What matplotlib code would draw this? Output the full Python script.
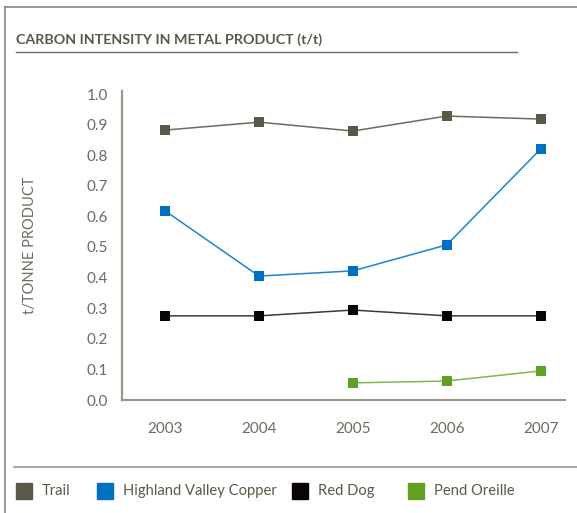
import numpy as np
import matplotlib.pyplot as plt
from matplotlib.lines import Line2D
from matplotlib.patches import Rectangle

years = [2003, 2004, 2005, 2006, 2007]
trail = [0.882, 0.908, 0.879, 0.928, 0.918]
highland = [0.618, 0.405, 0.422, 0.507, 0.820]
red_dog = [0.275, 0.275, 0.294, 0.275, 0.275]
pend_years = [2005, 2006, 2007]
pend_oreille = [0.056, 0.062, 0.095]

names = ["Trail", "Highland Valley Copper", "Red Dog", "Pend Oreille"]
colors = ["#5b5848", "#0070c0", "#0a0406", "#62a025"]
line_colors = ["#6e6b5e", "#1f84d0", "#3a3a3a", "#7fb84a"]

plt.rcParams["font.family"] = ["Lato", "DejaVu Sans"]
grey = "#6b6b5e"

W, H = 577, 513
fig = plt.figure(figsize=(W / 100, H / 100), dpi=100)

ax = fig.add_axes([122 / W, 1 - 400 / H, (565 - 122) / W, (400 - 94) / H])

series = [(years, trail), (years, highland), (years, red_dog), (pend_years, pend_oreille)]
for (xs, ys), c, lc in zip(series, colors, line_colors):
    ax.plot(xs, ys, "-", color=lc, linewidth=1.1, zorder=2)
    ax.plot(xs, ys, "s", color=c, markersize=7.5, zorder=3, markeredgewidth=0)

ax.set_xlim(2002.54, 2007.26)
ax.set_ylim(0, 1.0)
ax.set_xticks(years)
ax.set_yticks(np.arange(0, 1.01, 0.1))
ax.set_yticklabels([f"{v:.1f}" for v in np.arange(0, 1.01, 0.1)])
ax.tick_params(length=0, colors=grey, labelsize=11, pad=10)
ax.tick_params(axis="x", pad=16)
for s in ["top", "right"]:
    ax.spines[s].set_visible(False)
for s in ["left", "bottom"]:
    ax.spines[s].set_color("#9a9888")
    ax.spines[s].set_linewidth(1.6)
ax.spines["left"].set_bounds(0, 1.01)

fig.text(30 / W, 1 - 245 / H, "t/TONNE PRODUCT", color=grey, fontsize=10.5,
         rotation=90, ha="center", va="center")

# frame and title
fig.add_artist(Line2D([5 / W, 5 / W], [0, 1 - 7 / H], color="#8a8878", linewidth=1.2))
fig.add_artist(Line2D([5 / W, 1], [1 - 7 / H, 1 - 7 / H], color="#8a8878", linewidth=1.2))
fig.text(16 / W, 1 - 40 / H, "CARBON INTENSITY IN METAL PRODUCT (t/t)",
         fontsize=10.3, fontweight="bold", color="#5b5848", va="center")
fig.add_artist(Line2D([16 / W, 517 / W], [1 - 52 / H, 1 - 52 / H], color="#6b6b5e", linewidth=1.0))
fig.add_artist(Line2D([14 / W, 1], [1 - 467 / H, 1 - 467 / H], color="#9a9888", linewidth=1.2))

# legend
sq_x = [16, 97, 292, 408]
for x0, name, c in zip(sq_x, names, colors):
    fig.add_artist(Rectangle((x0 / W, 1 - 499 / H), 16 / W, 16 / H, color=c,
                             transform=fig.transFigure))
    fig.text((x0 + 26) / W, 1 - 491 / H, name, fontsize=10.6, color="#5b5848", va="center")

fig.savefig("out.png", dpi=100)
